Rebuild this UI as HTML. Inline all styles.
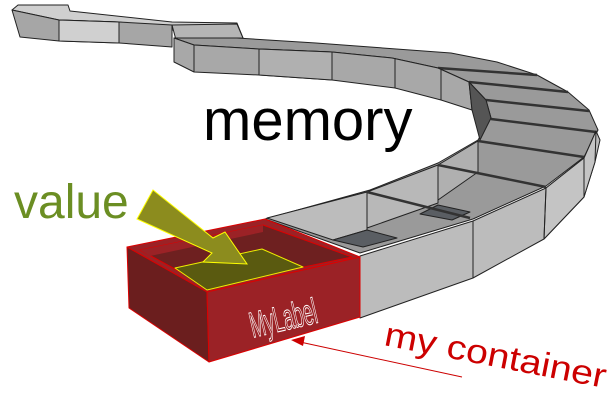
<!DOCTYPE html>
<html><head><meta charset="utf-8"><style>
html,body{margin:0;padding:0;background:#fff;}
svg{display:block;}
</style></head><body>
<svg width="612" height="403" viewBox="0 0 612 403" xmlns="http://www.w3.org/2000/svg">
<g stroke="#222" stroke-width="1" stroke-linejoin="round">
<polygon points="12,10 18,5 68,5 70,11 172,22 237,23 243,38 172,30 119,22 59,20" fill="#cfcfcf"/>
<polygon points="12,10 59,20 119,22 172,25 172,47 119,43 59,41 20,37" fill="#a6a6a6"/>
<polygon points="59,20 119,22 119,43 59,41" fill="#d0d0d0"/>
<polygon points="172,25 237,24 243,38 176,40" fill="#b5b5b5"/>
<polygon points="174,38 237,38 316,43 451,53 497,62 537,75 568,92 589,110 598,130 584,157 546,186 473,219 360,253 265,219 370,190 438,163 478,140 491,118 486,100 469,82 438,68 392,58 332,52 259,49 194,45" fill="#9a9a9a"/>
<polygon points="267,218 367,192 367,230 333,240" fill="#bcbcbc"/>
<polygon points="333,240 367,230 397,238 363,247" fill="#5a5e63"/>
<polygon points="367,192 438,165 438,203 367,228" fill="#b8b8b8"/>
<polygon points="438,165 478,141 478,172 438,200" fill="#b0b0b0"/>
<polygon points="420,214 438,205 470,212 452,220" fill="#5a5e63"/>
<g stroke="#333" stroke-width="2.5">
<line x1="367" y1="192" x2="470" y2="218"/>
<line x1="438" y1="165" x2="546" y2="187"/>
<line x1="478" y1="141" x2="584" y2="157"/>
<line x1="491" y1="119" x2="596" y2="132"/>
<line x1="486" y1="100" x2="589" y2="111"/>
<line x1="469" y1="82" x2="568" y2="92"/>
<line x1="438" y1="68" x2="537" y2="75"/>
</g>
<polygon points="174,38 194,45 259,49 332,52 392,58 438,68 469,82 472,110 441,100 395,88 332,80 259,75 194,72 174,62" fill="#a8a8a8"/>
<polygon points="259,49 332,52 332,80 259,75" fill="#b0b0b0"/>
<line x1="194" y1="45" x2="194" y2="72"/>
<line x1="259" y1="49" x2="259" y2="75"/>
<line x1="332" y1="52" x2="332" y2="80"/>
<line x1="395" y1="58" x2="395" y2="88"/>
<line x1="441" y1="69" x2="441" y2="100"/>
<polygon points="469,82 486,100 491,118 480,140 472,110" fill="#555"/>
<polygon points="360,256 473,221 546,188 584,158 596,131 600,140 595,162 584,197 544,239 473,278 360,318" fill="#bcbcbc"/>
<polygon points="544,239 584,197 595,162 596,131 584,158 546,188" fill="#c4c4c4"/>
<line x1="473" y1="221" x2="473" y2="278"/>
<line x1="546" y1="188" x2="544" y2="239"/>
<line x1="584" y1="158" x2="584" y2="197"/>
<line x1="360" y1="256" x2="360" y2="318"/>
</g>
<g stroke="#d00" stroke-width="1" stroke-linejoin="round">
<polygon points="127,247 265,219 360,257 207,292" fill="#9b2226"/>
<polygon points="140,250 263,225 352,257 208,287" fill="#6e2020"/>
<polygon points="140,250 263,225 263,232 150,256" fill="#9b2226" stroke="none"/>
<polygon points="175,268 262,249 303,267 207,290" fill="#5a5a10" stroke="#ee0"/>
<polygon points="127,247 207,292 209,362 129,308" fill="#6b1e1e"/>
<polygon points="207,292 360,257 360,317 209,362" fill="#9b2226"/>
</g>
<polygon points="153,190 213,238 225,232 247,264 203,262 212,253 137,219" fill="#8c8c1e" stroke="#ff0" stroke-width="1"/>
<text x="203" y="140" font-family="Liberation Sans, sans-serif" font-size="58" fill="#000">memory</text>
<text x="14" y="218" font-family="Liberation Sans, sans-serif" font-size="48" fill="#6b8e23">value</text>
<text transform="translate(286,330) rotate(-13) scale(0.5,1)" font-family="Liberation Sans, sans-serif" font-size="36" fill="none" stroke="#fff" stroke-width="1" text-anchor="middle">MyLabel</text>
<text transform="translate(383,345) rotate(11)" font-family="Liberation Sans, sans-serif" font-size="34" fill="#cc0000" textLength="225" lengthAdjust="spacingAndGlyphs">my container</text>
<line x1="462" y1="377" x2="300" y2="342" stroke="#cc0000" stroke-width="1"/>
<polygon points="291,340 305,336 303,346" fill="#cc0000"/>
</svg>
</body></html>
